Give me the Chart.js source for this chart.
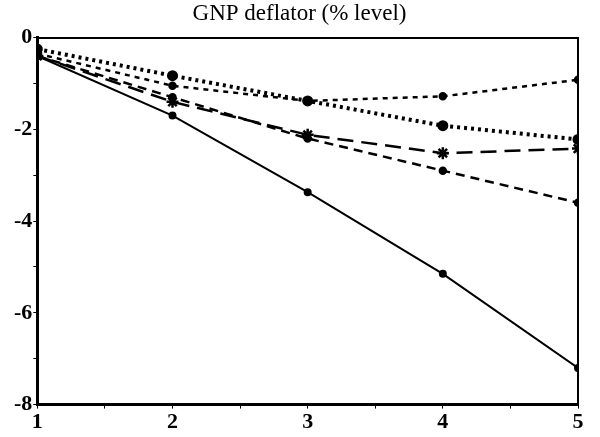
<!DOCTYPE html>
<html>
<head>
<meta charset="utf-8">
<script src="https://cdn.jsdelivr.net/npm/chart.js@4"></script>
<style>
  html, body { margin: 0; padding: 0; background: #fff; }
  #wrap { width: 600px; height: 437px; }
</style>
</head>
<body>
<div id="wrap"><canvas id="chart"></canvas></div>
<script>
const periods = [1, 2, 3, 4, 5];
const solidSeries = [-0.4, -1.7, -3.37, -5.15, -7.2];
const shortDashSeries = [-0.4, -1.3, -2.2, -2.9, -3.6];
const starSeries = [-0.4, -1.4, -2.12, -2.52, -2.42];
const heavyDotSeries = [-0.25, -0.83, -1.38, -1.92, -2.22];
const fineDotSeries = [-0.35, -1.05, -1.38, -1.28, -0.92];

function toPoints(values) {
    return periods.map((p, i) => ({ x: p, y: values[i] }));
}

const ctx = document.getElementById('chart').getContext('2d');

new Chart(ctx, {
    type: 'line',
    data: {
        datasets: [
            {
                data: toPoints(solidSeries),
                borderColor: '#000', backgroundColor: '#000',
                borderWidth: 2, pointRadius: 3
            },
            {
                data: toPoints(shortDashSeries),
                borderColor: '#000', backgroundColor: '#000',
                borderWidth: 2.5, borderDash: [9, 6], pointRadius: 3
            },
            {
                data: toPoints(starSeries),
                borderColor: '#000', backgroundColor: '#000',
                borderWidth: 2.5, borderDash: [16, 8],
                pointStyle: 'star', pointRadius: 6, pointBorderWidth: 2.5
            },
            {
                data: toPoints(heavyDotSeries),
                borderColor: '#000', backgroundColor: '#000',
                borderWidth: 4, borderDash: [3, 4], borderCapStyle: 'butt',
                pointRadius: 3.5
            },
            {
                data: toPoints(fineDotSeries),
                borderColor: '#000', backgroundColor: '#000',
                borderWidth: 2.5, borderDash: [5, 5],
                pointRadius: 3
            }
        ]
    },
    options: {
        responsive: true,
        maintainAspectRatio: false,
        animation: false,
        layout: { padding: { left: 13, right: 14, top: 0, bottom: 0 } },
        plugins: {
            legend: { display: false },
            tooltip: { enabled: false },
            title: {
                display: true,
                text: 'GNP deflator (% level)',
                color: '#000',
                font: { family: 'Liberation Serif', size: 23, weight: 'normal' },
                padding: { top: 0, bottom: 2 }
            }
        },
        scales: {
            x: {
                type: 'linear',
                min: 1, max: 5,
                border: { color: '#000', width: 3 },
                grid: { drawOnChartArea: false, color: '#000', tickLength: 4 },
                ticks: {
                    stepSize: 0.5,
                    color: '#000',
                    padding: 1,
                    font: { family: 'Liberation Serif', size: 22, weight: 'bold' },
                    callback: v => Number.isInteger(v) ? v : ''
                }
            },
            x2: {
                type: 'linear', position: 'top', min: 1, max: 5,
                border: { color: '#000', width: 2 },
                grid: { display: false },
                ticks: { display: false }
            },
            y: {
                min: -8, max: 0,
                border: { color: '#000', width: 3 },
                grid: { drawOnChartArea: false, color: '#000', tickLength: 4 },
                ticks: {
                    stepSize: 1,
                    color: '#000',
                    padding: 1,
                    font: { family: 'Liberation Serif', size: 22, weight: 'bold' },
                    callback: v => v % 2 === 0 ? v : ''
                }
            },
            y2: {
                position: 'right', min: -8, max: 0,
                border: { color: '#000', width: 2 },
                grid: { display: false },
                ticks: { display: false }
            }
        }
    }
});
</script>
</body>
</html>
